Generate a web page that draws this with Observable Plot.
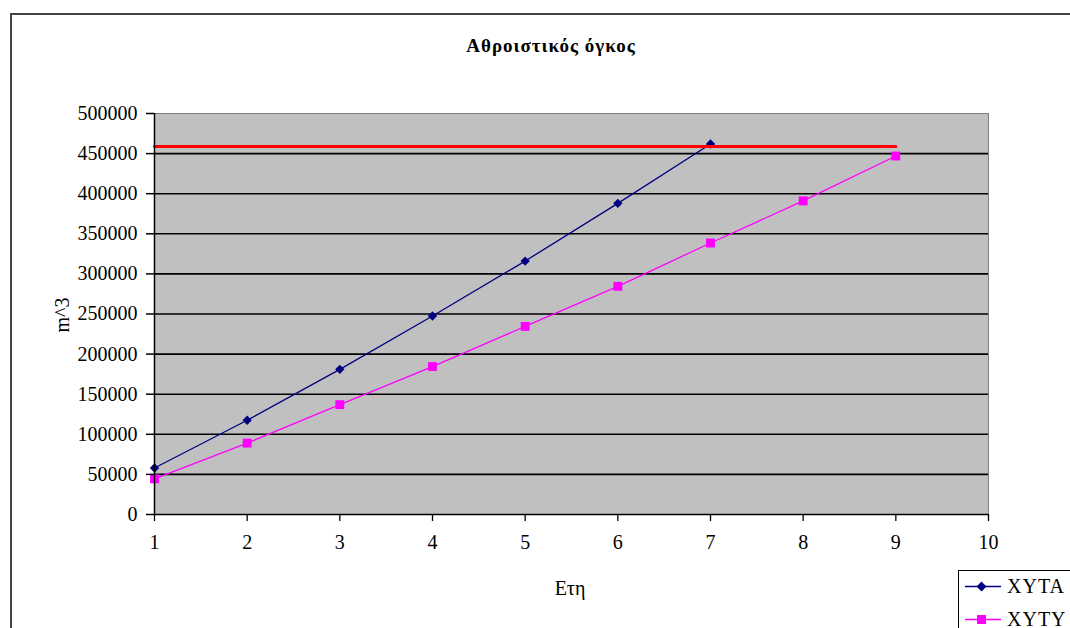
<!DOCTYPE html>
<html><head><meta charset="utf-8">
<script src="https://cdn.jsdelivr.net/npm/d3@7"></script>
<script src="https://cdn.jsdelivr.net/npm/@observablehq/plot@0.6"></script>
<style>
body{margin:0;background:#fff;}
#wrap{position:relative;width:1070px;height:628px;overflow:hidden;font-family:"Liberation Serif","Times New Roman",serif;color:#000;}
#frame{position:absolute;left:10px;top:13px;width:1200px;height:800px;border-left:2px solid #444;border-top:2px solid #444;}
#chart{position:absolute;left:0;top:0;}
#title{position:absolute;left:351px;width:400px;top:36px;text-align:center;font-weight:bold;font-size:19px;letter-spacing:1px;line-height:20px;}
#ylab{position:absolute;left:62px;top:315px;transform:translate(-50%,-50%) rotate(-90deg);font-size:20px;white-space:nowrap;}
#xlab{position:absolute;left:570px;top:588px;transform:translate(-50%,-50%);font-size:20px;}
#legend{position:absolute;left:958px;top:570px;width:200px;height:100px;border:1px solid #000;background:#fff;}
.entry{position:absolute;left:6px;height:24px;display:flex;align-items:center;font-size:20px;}
.entry span{margin-left:6px;letter-spacing:1px;}
</style></head>
<body>
<div id="wrap">
  <div id="frame"></div>
  <div id="chart"></div>
  <div id="title">Αθροιστικός όγκος</div>
  <div id="ylab">m^3</div>
  <div id="xlab">Ετη</div>
  <div id="legend"></div>
</div>
<script>
// ---- data ----
const xytaYears = [1, 2, 3, 4, 5, 6, 7];
const xytaValues = [58000, 117500, 181000, 247500, 316000, 388000, 462000];
const xytyYears = [1, 2, 3, 4, 5, 6, 7, 8, 9];
const xytyValues = [44500, 89000, 137000, 184500, 234500, 284500, 338500, 391000, 447000];
const limitYears = [1, 9];
const limitValue = 459000;
const yTickValues = [0, 50000, 100000, 150000, 200000, 250000, 300000, 350000, 400000, 450000, 500000];
const xTickValues = [1, 2, 3, 4, 5, 6, 7, 8, 9, 10];
const seriesNames = ["XYTA", "XYTY"];
const seriesColors = ["#000080", "#FF00FF"];

const xyta = xytaYears.map((x, i) => ({x, y: xytaValues[i]}));
const xyty = xytyYears.map((x, i) => ({x, y: xytyValues[i]}));
const limit = limitYears.map(x => ({x, y: limitValue}));
const gridValues = yTickValues.filter(v => v > 0 && v < 500000);

const plot = Plot.plot({
  width: 1070,
  height: 628,
  marginLeft: 154,
  marginRight: 82,
  marginTop: 113,
  marginBottom: 114,
  style: {fontFamily: "'Liberation Serif','Times New Roman',serif", fontSize: "20px", background: "transparent", color: "#000"},
  x: {domain: [1, 10]},
  y: {domain: [0, 500000]},
  marks: [
    Plot.frame({fill: "#C0C0C0", stroke: "#808080"}),
    Plot.ruleY(gridValues, {stroke: "#000", strokeWidth: 1.6}),
    Plot.line(xyty, {x: "x", y: "y", stroke: seriesColors[1], strokeWidth: 1.3}),
    Plot.dot(xyty, {x: "x", y: "y", symbol: "square", r: 5, fill: seriesColors[1], stroke: "none"}),
    Plot.line(xyta, {x: "x", y: "y", stroke: seriesColors[0], strokeWidth: 1.3}),
    Plot.dot(xyta, {x: "x", y: "y", symbol: "diamond2", r: 4.2, fill: seriesColors[0], stroke: "none"}),
    Plot.line(limit, {x: "x", y: "y", stroke: "#FF0000", strokeWidth: 3}),
    Plot.ruleX([1], {stroke: "#000", strokeWidth: 1.5}),
    Plot.ruleY([0], {stroke: "#000", strokeWidth: 1.5}),
    Plot.axisY({ticks: yTickValues, tickFormat: d => String(d), tickSize: 8, tickPadding: 9, label: null, stroke: "#000", strokeWidth: 1.5}),
    Plot.axisX({ticks: xTickValues, tickFormat: d => String(d), tickSize: 7, tickPadding: 13, label: null, stroke: "#000", strokeWidth: 1.3})
  ]
});
document.getElementById("chart").appendChild(plot);

// legend
const legend = document.getElementById("legend");
seriesNames.forEach((name, i) => {
  const e = document.createElement("div");
  e.className = "entry";
  e.style.top = (3 + i * 33) + "px";
  const sym = i === 0
    ? `<rect x="13" y="5" width="7" height="7" transform="rotate(45 16.5 8.5)" fill="${seriesColors[i]}"/>`
    : `<rect x="12" y="4" width="9" height="9" fill="${seriesColors[i]}"/>`;
  e.innerHTML = `<svg width="36" height="17"><line x1="0" x2="36" y1="8.5" y2="8.5" stroke="${seriesColors[i]}" stroke-width="1.5"/>${sym}</svg><span>${name}</span>`;
  legend.appendChild(e);
});
</script>
</body></html>
